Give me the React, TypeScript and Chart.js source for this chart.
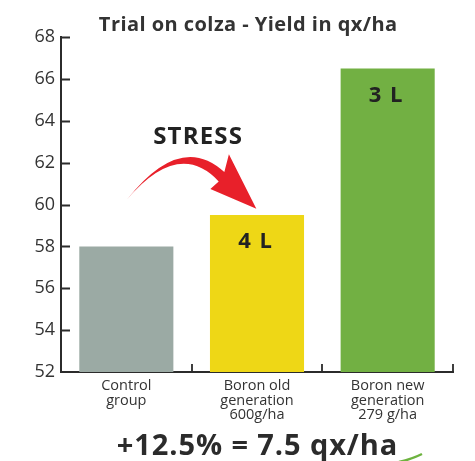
import { useEffect, useRef } from "react";
import { Chart, registerables } from "chart.js";
Chart.register(...registerables);

const categories = [["Control", "group"], ["Boron old", "generation", "600g/ha"], ["Boron new", "generation", "279 g/ha"]];
const yields = [58, 59.5, 66.5];
const barLabels = ["", "4 L", "3 L"];
const barColors = ["#9BAAA4", "#EED716", "#72B043"];
const yMin = 52;
const yMax = 68;
const yStep = 2;
const titleText = "Trial on colza - Yield in qx/ha";
const stressText = "STRESS";
const summaryText = "+12.5% = 7.5 qx/ha";

const INK = "#2b2b2b";
const BOLD = "'Open Sans'";

function spacedText(ctx: any, text: string, x: number, y: number, spacing: number) {
  ctx.letterSpacing = spacing + "px";
  ctx.fillText(text, x + spacing / 2, y);
  ctx.letterSpacing = "0px";
}

const decorPlugin = {
  id: "decor",
  afterDatasetsDraw(chart: any) {
    const ctx = chart.ctx;
    const xs = chart.scales.x;
    const ys = chart.scales.y;
    const area = chart.chartArea;
    ctx.save();
    // inside tick marks
    ctx.strokeStyle = INK;
    ctx.lineWidth = 1.8;
    ctx.beginPath();
    ys.ticks.forEach((_t: any, i: number) => {
      if (i === 0) return;
      const py = Math.round(ys.getPixelForTick(i)) + 0.5;
      ctx.moveTo(area.left, py);
      ctx.lineTo(area.left + 9, py);
    });
    for (let k = 1; k <= categories.length; k++) {
      const px = Math.round(xs.getPixelForValue(k - 0.5));
      ctx.moveTo(px, area.bottom);
      ctx.lineTo(px, area.bottom - 8);
    }
    ctx.stroke();

    // bar labels
    const meta = chart.getDatasetMeta(0);
    ctx.fillStyle = "#222";
    ctx.font = `bold 22px ${BOLD}`;
    ctx.textAlign = "center";
    ctx.textBaseline = "middle";
    meta.data.forEach((el: any, i: number) => {
      if (!barLabels[i]) return;
      spacedText(ctx, barLabels[i], el.x - 2, el.y + 27, 1.5);
    });

    // STRESS
    ctx.font = `bold 24px ${BOLD}`;
    ctx.fillStyle = "#222";
    spacedText(ctx, stressText, xs.getPixelForValue(0.545), ys.getPixelForValue(63.2), 1.2);

    // arrow
    const P = (i: number, v: number): [number, number] => [xs.getPixelForValue(i), ys.getPixelForValue(v)];
    const tail = P(0, 60.2);
    const uc = P(0.413, 63.5);
    const ue = P(0.75, 61.55);
    const b1 = P(0.785, 62.4);
    const tip = P(0.995, 59.8);
    const b2 = P(0.643, 60.74);
    const ls = P(0.707, 61.1);
    const lc = P(0.4, 63.15);
    ctx.fillStyle = "#E8202A";
    ctx.beginPath();
    ctx.moveTo(tail[0], tail[1]);
    ctx.quadraticCurveTo(uc[0], uc[1], ue[0], ue[1]);
    ctx.lineTo(b1[0], b1[1]);
    ctx.lineTo(tip[0], tip[1]);
    ctx.lineTo(b2[0], b2[1]);
    ctx.lineTo(ls[0], ls[1]);
    ctx.quadraticCurveTo(lc[0], lc[1], tail[0], tail[1]);
    ctx.closePath();
    ctx.fill();
    ctx.restore();
  },
  afterDraw(chart: any) {
    const ctx = chart.ctx;
    const area = chart.chartArea;
    const cx = (area.left + area.right) / 2;
    ctx.save();
    ctx.fillStyle = "#333";
    ctx.font = `bold 20px ${BOLD}`;
    ctx.textAlign = "center";
    ctx.textBaseline = "alphabetic";
    spacedText(ctx, titleText, cx - 9, area.top - 6, 0.45);

    // swoosh
    ctx.strokeStyle = "#6DB33F";
    ctx.lineWidth = 2.5;
    ctx.beginPath();
    ctx.moveTo(cx + 142, chart.height + 1);
    ctx.quadraticCurveTo(cx + 155, chart.height - 2, cx + 165, chart.height - 7);
    ctx.stroke();

    ctx.fillStyle = INK;
    ctx.font = `bold 29px ${BOLD}`;
    spacedText(ctx, summaryText, cx, chart.height - 6, 0.9);
    ctx.restore();
  },
};

export default function App() {
  const ref = useRef<HTMLCanvasElement | null>(null);
  useEffect(() => {
    document.body.style.margin = "0";
    const canvas = ref.current;
    if (!canvas) return;
    const chart = new Chart(canvas, {
      type: "bar",
      data: {
        labels: categories,
        datasets: [
          {
            data: yields,
            backgroundColor: barColors,
            borderWidth: 0,
            barPercentage: 0.72,
            categoryPercentage: 1,
          },
        ],
      },
      options: {
        responsive: false,
        animation: false,
        devicePixelRatio: 1,
        layout: { padding: { left: 0, right: 22, top: 37, bottom: 0 } },
        plugins: { legend: { display: false }, tooltip: { enabled: false }, title: { display: false } },
        scales: {
          x: {
            grid: { display: false, drawTicks: false },
            border: { display: true, color: INK, width: 2 },
            ticks: {
              padding: 6,
              color: "#333",
              font: { family: "'Open Sans'", size: 14.5, lineHeight: 1.03 },
              maxRotation: 0,
              autoSkip: false,
            },
            afterFit: (s: any) => {
              s.height = 89;
            },
          },
          y: {
            min: yMin,
            max: yMax,
            grid: { display: false, drawTicks: false },
            border: { display: true, color: INK, width: 2 },
            ticks: {
              stepSize: yStep,
              padding: 6,
              color: "#333",
              font: { family: "'Open Sans'", size: 18 },
            },
            afterFit: (s: any) => {
              s.width = 61;
            },
          },
        },
      },
      plugins: [decorPlugin],
    });
    return () => chart.destroy();
  }, []);
  return (
    <div style={{ width: 475, height: 461, background: "#fff" }}>
      <canvas ref={ref} width={475} height={461} style={{ display: "block" }} />
    </div>
  );
}
